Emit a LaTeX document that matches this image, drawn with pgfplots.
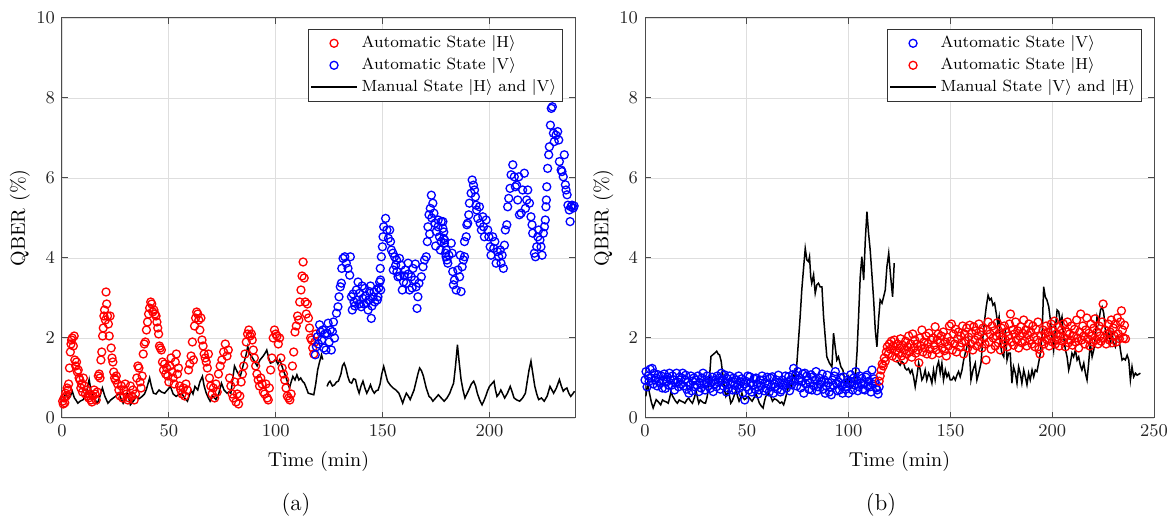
\documentclass[border=0pt]{standalone}
\usepackage{pgfplots}
\pgfplotsset{compat=1.18}
\begin{document}
\begin{tikzpicture}
\useasboundingbox (0,0) rectangle (588pt,258.5pt);
\pgfplotsset{
  qber/.style={
    scale only axis, height=200pt,
    ymin=0, ymax=10, ytick={0,2,4,6,8,10},
    grid=major, grid style={draw=black!13, line width=0.4pt},
    axis line style={draw=black!70, line width=0.5pt},
    tick style={draw=black!70, line width=0.5pt},
    major tick length=3pt, tick align=inside,
    ticklabel style={font=\fontsize{9.5}{11}\selectfont, text=black!85},
    xlabel={Time (min)}, ylabel={QBER (\%)},
    label style={font=\fontsize{10}{12}\selectfont, text=black!85},
    every axis x label/.style={at={(axis description cs:0.5,-0.11)}, anchor=center},
    every axis y label/.style={at={(axis description cs:-0.082,0.5)}, anchor=center, rotate=90},
    legend cell align=left,
    legend style={at={(1,1)}, anchor=north east, xshift=-6pt, yshift=-5.5pt, font=\fontsize{8.1}{9.5}\selectfont, draw=black!80, inner sep=1.2pt, row sep=-0.5pt},
    legend image code/.code={\draw[mark repeat=2,mark phase=2,line width=0.8pt,##1] plot coordinates {(0cm,0cm)(0.4cm,0cm)(0.8cm,0cm)};},
  },
  mk/.style={only marks, mark=o, mark size=2.0pt, mark options={line width=0.65pt}},
  ln/.style={black, line width=0.75pt, mark=none},
}
% ---------------- (a) ----------------
\begin{axis}[qber, at={(31pt,49.5pt)}, anchor=south west, width=256.5pt,
  xmin=0, xmax=240, xtick={0,50,100,150,200}]
\addplot[mk, red] coordinates {
(0.3,0.42)(0.6,0.35)(1.0,0.5)(1.3,0.38)(1.7,0.62)(2.0,0.55)(2.4,0.75)(2.8,0.7)(3.1,0.85)
(3.5,1.25)(3.9,1.65)(4.2,1.85)(4.5,1.95)(4.8,2.0)(5.3,1.8)(5.7,2.05)(6.0,1.45)(6.4,1.3)(6.8,1.4)
(7.2,1.15)(7.6,1.2)(8.0,1.0)(8.4,0.95)(8.8,0.75)(9.2,0.85)(9.6,0.65)(10.0,1.0)(10.5,0.8)(11.0,0.6)(11.5,0.7)
(12.0,0.55)(12.5,0.5)(13.0,0.6)(13.5,0.45)(14.0,0.4)(14.5,0.55)(15.0,0.7)(15.5,0.6)(16.0,0.45)(16.5,0.65)
(17.0,1.05)(17.4,1.1)(17.8,1.0)(18.2,1.45)(18.6,1.65)
(19.0,2.05)(19.3,2.25)(19.6,2.55)(19.9,2.7)(20.3,2.45)(20.6,3.15)(20.9,2.85)(21.3,2.55)(21.7,2.35)(22.1,2.05)(22.5,2.55)
(23.0,1.75)(23.4,1.5)(23.8,1.4)(24.2,1.15)(24.6,1.0)(25.0,0.95)(25.4,1.05)
(26.0,0.85)(26.6,0.7)(27.2,0.55)(27.8,0.8)(28.4,0.5)(29.0,0.7)(29.6,0.85)(30.2,0.6)(30.8,0.45)(31.4,0.5)(32.0,0.8)(32.6,0.55)(33.2,0.7)(33.8,0.45)(34.4,0.6)
(35.0,1.0)(35.5,1.3)(36.0,1.25)(36.5,0.9)(37.0,0.75)(37.5,1.05)
(38.0,1.6)(38.5,1.85)(39.0,1.9)(39.5,2.2)(40.0,2.4)(40.5,2.6)
(41.0,2.75)(41.5,2.9)(42.0,2.85)(42.5,2.65)(43.0,2.7)(43.5,2.6)
(44.0,2.55)(44.4,2.4)(44.8,2.25)(45.2,2.1)(45.6,1.8)(46.0,1.75)(46.5,1.7)
(47.0,1.4)(47.5,1.2)(48.0,1.35)(48.5,1.1)(49.0,1.25)(49.5,1.05)(50.0,0.9)(50.5,1.3)(51.0,1.5)(51.5,1.15)(52.0,1.0)(52.5,0.85)(53.0,1.4)(53.5,1.6)(54.0,1.1)(54.5,1.25)
(55.0,0.8)(55.6,0.7)(56.2,0.6)(56.8,0.75)(57.4,0.55)(58.0,0.85)(58.6,0.7)
(59.2,1.2)(59.8,1.35)(60.4,1.55)(61.0,1.9)(61.5,1.45)
(62.0,2.3)(62.5,2.5)(63.0,2.65)(63.5,2.6)(64.0,2.45)(64.5,2.2)(65.0,2.5)
(65.5,1.95)(66.0,1.8)(66.5,1.6)(67.0,1.5)(67.5,1.4)(68.0,1.25)(68.5,1.6)
(69.0,1.0)(69.6,0.8)(70.2,0.6)(70.8,0.75)(71.4,0.5)(72.0,0.85)(72.6,0.65)(73.2,1.1)
(74.0,1.3)(74.8,1.45)(75.6,1.65)(76.4,1.85)(77.2,1.55)(77.8,1.7)
(78.4,1.0)(79.0,0.8)(79.6,0.6)(80.2,0.5)(80.8,0.9)(81.4,0.4)(82.0,0.6)(82.6,0.35)(83.2,0.55)(83.8,0.9)
(84.4,1.1)(85.0,1.3)(85.6,1.6)(86.2,1.9)(86.8,2.1)(87.4,2.2)(88.0,2.05)(88.6,2.1)(89.0,1.95)
(89.5,1.7)(90.0,1.5)(90.6,1.3)(91.2,1.1)(91.8,0.95)(92.4,0.8)(93.0,1.0)(93.6,0.85)(94.2,0.65)(94.8,0.6)(95.4,0.85)(96.0,0.5)(96.5,0.45)(97.0,0.75)
(97.6,1.2)(98.2,1.5)(98.8,2.0)(99.4,2.2)(100.0,2.1)(100.6,2.05)(101.2,1.85)(101.8,2.0)
(102.4,1.5)(103.0,1.25)(103.6,1.1)(104.2,0.95)(104.8,0.75)(105.4,0.55)(106.0,0.5)(106.6,0.45)(107.2,0.6)
(107.8,1.3)(108.4,1.65)(109.0,2.15)(109.6,2.3)(110.2,2.55)(110.8,2.45)
(111.2,2.9)(111.8,3.2)(112.3,3.55)(112.8,3.9)(113.3,3.5)(113.8,2.9)(114.3,2.6)
(114.8,2.85)(115.3,2.5)(115.8,2.25)(116.3,2.0)(116.8,1.95)(117.3,1.75)(117.8,1.6)(118.3,1.9)(118.8,2.1)
};
\addlegendentry{Automatic State \(|\mathrm{H}\rangle\)}
\addplot[mk, blue] coordinates {
(118.5,1.58)(119.0,1.78)(119.5,2.03)(120.0,1.85)(120.5,2.33)(121.0,2.15)(121.5,1.95)(122.0,2.2)(122.5,1.75)(123.0,2.1)(123.5,1.7)(124.0,2.12)(124.5,2.37)(125.0,1.9)(125.5,2.2)(126.0,1.7)(126.5,2.16)(127.0,2.4)(127.5,2.0)
(128.4,2.62)(129.1,2.78)(129.6,3.03)(130.2,3.28)(130.7,3.37)
(130.9,3.74)(131.5,3.99)(132.3,4.03)(133.0,3.87)(133.8,3.74)(134.6,3.57)(134.9,4.03)
(135.4,3.03)(135.8,2.7)(136.6,2.9)(137.7,3.2)(138.5,3.4)(139.3,3.12)(140.0,2.78)(140.8,2.99)(141.6,3.24)(142.4,2.87)(143.2,2.7)(143.9,3.16)(144.7,2.49)(145.5,3.03)(146.3,2.9)(147.1,3.2)(147.8,3.03)(148.6,3.4)(149.1,3.2)
(136.2,3.1)(137.0,2.8)(138.0,2.95)(139.0,2.85)(140.4,3.3)(141.2,2.85)(142.0,3.05)(143.5,2.95)(144.3,3.3)(145.0,2.8)(146.0,3.15)(147.5,2.95)(148.2,3.25)(149.0,3.45)
(148.9,3.74)(149.4,4.03)(149.9,4.28)(150.2,4.53)(150.5,4.78)(151.4,4.99)(152.0,4.7)(152.7,4.49)(153.3,4.7)(153.7,4.41)
(154.1,4.2)(154.8,4.12)(155.6,4.03)(156.1,3.82)(156.7,3.66)(157.2,3.53)(157.9,3.99)(158.7,3.82)(159.2,3.2)(159.8,3.4)(160.6,3.7)(161.1,3.37)(161.9,3.87)(162.6,3.2)(163.4,3.53)(164.2,3.74)(165.0,3.45)(165.7,3.28)(166.1,2.74)(166.5,3.03)(167.0,3.37)
(155.0,3.7)(156.5,3.95)(158.0,3.55)(160.0,3.55)(162.0,3.6)(163.8,3.25)(165.3,3.85)
(168.1,3.53)(168.9,3.78)(169.6,3.95)(170.4,4.03)(170.9,4.41)(171.2,4.78)(171.7,5.08)(172.3,5.24)(172.8,5.57)(173.5,5.37)(174.0,5.12)(174.5,4.87)(175.1,4.66)(175.9,4.78)(176.6,4.53)(177.4,4.41)(178.2,4.91)(179.0,4.45)(179.8,4.2)(180.1,3.95)
(172.0,4.6)(173.0,5.0)(174.8,4.3)(176.0,4.95)(177.0,4.2)(178.6,4.65)
(177.4,4.91)(178.2,4.74)(178.5,4.49)(178.9,4.37)(179.4,4.12)(179.7,4.03)(180.5,3.87)(181.0,4.07)(182.1,4.37)
(182.5,4.12)(182.8,3.66)(183.1,3.33)(183.6,3.45)(184.4,3.2)(185.2,3.7)(186.0,3.53)(186.3,4.07)(186.7,3.16)(187.2,3.78)(187.8,3.95)(188.3,4.03)
(188.3,4.41)(189.1,4.53)(189.4,4.83)(189.8,4.87)(190.3,5.08)(190.6,5.37)(191.4,5.62)(191.9,5.95)(192.5,5.82)(193.0,5.7)(193.4,5.53)(193.7,5.32)
(194.0,5.2)(194.5,4.99)(195.3,5.28)(195.6,4.87)(196.2,4.7)(196.9,5.03)(197.2,4.78)(197.6,4.53)(198.4,4.95)(199.2,4.7)(199.7,4.53)(200.3,4.28)(200.7,4.07)(201.5,4.53)(202.0,4.24)(202.5,4.41)(203.1,3.87)(203.7,4.16)(204.3,4.03)(205.0,4.2)(205.4,3.87)(205.9,4.07)(206.5,3.74)(207.0,4.32)
(207.4,4.7)(208.1,4.83)(208.5,5.28)(209.0,5.49)(209.6,5.74)(210.1,6.08)(210.9,6.33)(211.6,6.03)(212.1,5.78)(212.7,5.82)(213.2,5.45)(213.7,6.03)(214.0,5.08)(214.8,5.12)(215.5,5.7)(216.3,6.12)(216.8,5.24)(217.4,5.45)(217.9,5.7)(218.7,5.37)(219.4,5.03)
(219.9,4.83)(220.2,4.62)(221.0,4.12)(221.5,4.03)(222.1,4.28)(222.6,4.53)(223.0,4.7)(223.6,4.45)(224.1,4.28)(224.6,4.07)(225.2,4.62)(225.7,4.78)(226.1,4.95)(226.4,5.28)(226.6,5.45)
(226.8,5.78)(227.2,6.24)(227.7,6.58)(228.0,6.78)(228.5,7.32)(228.9,7.74)(229.4,7.78)(229.9,7.12)(230.3,6.91)(231.1,7.07)(231.9,7.16)(232.4,6.95)(232.7,6.41)(233.5,6.2)(233.9,6.16)(234.5,6.03)(235.0,6.58)(235.5,5.83)(235.8,5.7)(236.3,5.58)(236.7,5.32)(237.3,5.2)(237.7,4.91)(238.1,5.28)(238.6,5.32)(239.2,5.25)(239.6,5.3)
};
\addlegendentry{Automatic State \(|\mathrm{V}\rangle\)}
\addplot[ln] coordinates {
(0,0.42)(1.0,0.5)(1.8,0.63)(2.8,0.48)(3.9,0.54)(4.8,0.67)(5.8,0.5)(6.5,0.45)(7.4,0.37)(8.5,0.42)(10,0.46)(11,0.6)(11.8,0.72)(12.7,0.96)(13.5,0.7)(14.5,0.54)(15.5,0.45)(16.6,0.37)(17.5,0.5)(18.9,0.75)(20,0.55)(21.5,0.37)(22.8,0.45)(24,0.5)(25.3,0.55)(26.5,0.62)(27.5,0.5)(28.6,0.37)(29.5,0.48)(30.4,0.62)(31.2,0.5)(32,0.33)(33.4,0.42)(34.8,0.54)(36,0.48)(37.5,0.54)(38.6,0.6)(39.5,0.72)(41,1.0)(41.8,0.8)(42.8,0.62)(44,0.6)(45.4,0.7)(46.5,0.65)(48,0.62)(49.3,0.7)(50.7,0.79)(52,0.6)(53.4,0.54)(54.5,0.58)(56,0.62)(57.3,0.5)(58.7,0.42)(59.5,0.55)(60.4,0.7)(61.3,0.6)(62.2,0.79)(63.5,0.7)(64.5,0.9)(65.7,1.04)(66.5,0.8)(67.5,0.62)(68.5,0.5)(69.3,0.42)(70.5,0.55)(72,0.46)(73.3,0.6)(74.6,0.87)(75.8,0.7)(77.2,0.62)(78,0.65)(79,0.62)(79.8,0.95)(80.7,1.3)(82,1.15)(83.4,1.04)(84.2,1.2)(85,1.37)(86,1.55)(86.9,1.79)(87.8,1.6)(88.7,1.54)(90,1.42)(91.3,1.3)(92.6,1.45)(94,1.54)(95,1.62)(95.8,1.7)(96.7,1.5)(97.5,1.37)(98.7,1.4)(100,1.46)(101,1.35)(101.9,1.46)(103.2,1.25)(104.6,1.04)(105.5,0.9)(106.4,0.75)(107.2,0.9)(108,1.04)(109,0.95)(109.9,1.08)(110.8,0.95)(111.7,1.0)(112.5,0.92)(113.4,0.87)(114.3,0.75)(115.2,0.62)(116.5,0.6)(117.8,0.58)(118.7,0.85)(119.6,1.2)(120.5,1.4)(121.4,1.58)(122,1.46)
};
\addlegendentry{Manual State \(|\mathrm{H}\rangle\) and \(|\mathrm{V}\rangle\)}
\addplot[ln, forget plot] coordinates {
(124,0.79)(124.7,0.88)(125.4,0.92)(126.5,0.8)(127.5,0.83)(128.4,0.9)(129.3,0.92)(130.5,1.1)(131.2,1.3)(132,1.37)(132.8,1.25)(133.7,1.04)(134.6,0.9)(135.5,0.87)(136.4,0.98)(137.3,0.96)(138.2,0.75)(139,0.62)(139.9,0.8)(140.8,0.92)(141.7,0.75)(142.6,0.62)(143.5,0.72)(144.3,0.83)(145.2,0.7)(146.1,0.62)(147,0.68)(147.9,0.7)(148.8,0.85)(149.6,1.1)(150.5,1.29)(151.4,1.1)(152.3,0.92)(153.6,0.82)(154.9,0.75)(156.2,0.7)(157.6,0.62)(158.5,0.5)(159.4,0.37)(160.2,0.5)(161.1,0.62)(162,0.55)(162.9,0.46)(163.8,0.58)(164.7,0.7)(165.6,0.9)(166.5,1.1)(167.3,1.25)(168.2,1.18)(169.1,1.04)(170.4,0.75)(171.7,0.54)(172.6,0.5)(173.5,0.42)(174.8,0.5)(176.1,0.58)(177.4,0.5)(178.8,0.42)(180.1,0.5)(181.4,0.62)(182.3,0.75)(183.2,0.87)(184.1,1.3)(185,1.83)(185.8,1.4)(186.7,0.96)(187.6,0.7)(188.5,0.5)(189.4,0.6)(190.3,0.7)(191.5,0.85)(192.6,0.92)(193.5,0.8)(194.3,0.62)(195.4,0.45)(196.5,0.33)(197.3,0.42)(198.2,0.54)(199.1,0.68)(200,0.79)(201,0.85)(202.1,0.92)(202.8,0.7)(203.5,0.54)(204.4,0.6)(205.3,0.7)(206.2,0.6)(207.1,0.5)(208.4,0.62)(209.7,0.79)(210.6,0.65)(211.5,0.5)(212.8,0.45)(214.1,0.42)(215.5,0.5)(216.8,0.62)(217.6,0.9)(218.5,1.2)(219.4,1.42)(220.3,1.1)(221.2,0.79)(222.1,0.6)(223,0.46)(224.3,0.5)(225.6,0.42)(227,0.55)(228.3,0.79)(229.2,0.7)(230,0.62)(231.3,0.75)(232.7,0.96)(233.6,0.8)(234.5,0.67)(235.3,0.72)(236.2,0.75)(237.1,0.62)(238,0.54)(238.9,0.6)(239.8,0.67)
};
\end{axis}
% ---------------- (b) ----------------
\begin{axis}[qber, at={(322.5pt,49.5pt)}, anchor=south west, width=254.5pt,
  xmin=0, xmax=250, xtick={0,50,100,150,200,250}]
\addplot[mk, blue] coordinates {
(0.0,0.95)(0.5,1.16)(1.0,0.78)(1.5,1.05)(2.0,0.91)(2.5,1.22)(3.0,1.0)(3.5,1.24)(4.0,0.85)(4.5,1.12)(5.0,0.95)(5.5,1.0)(6.0,0.8)(6.5,1.08)(7.0,0.92)(7.5,0.87)(8.0,1.05)(8.5,0.75)(9.0,0.95)(9.5,1.1)
(10.0,0.74)(10.5,0.9)(11.0,1.02)(11.5,0.82)(12.0,1.12)(12.5,0.95)(13.0,0.82)(13.5,1.05)(14.0,0.95)(14.5,0.7)(15.0,0.88)(15.5,1.12)(16.0,0.9)(16.5,0.78)(17.0,1.02)(17.5,0.85)(18.0,1.0)(18.5,1.12)(19.0,0.8)(19.5,0.95)
(20.0,1.07)(20.5,0.72)(21.0,0.9)(21.5,0.62)(22.0,0.82)(22.5,1.05)(23.0,0.68)(23.5,0.92)(24.0,1.0)(24.5,0.78)(25.0,0.95)(25.5,0.82)(26.0,1.05)(26.5,0.66)(27.0,0.88)(27.5,0.75)(28.0,1.0)(28.5,1.12)(29.0,0.85)(29.5,0.7)
(30.0,0.91)(30.5,1.05)(31.0,0.8)(31.5,0.95)(32.0,0.74)(32.5,0.88)(33.0,1.02)(33.5,0.66)(34.0,0.85)(34.5,0.95)(35.0,0.78)(35.5,1.05)(36.0,0.9)(36.5,1.0)(37.0,0.72)(37.5,1.12)(38.0,0.95)(38.5,0.8)(39.0,1.08)(39.5,0.87)
(40.0,0.65)(40.5,0.98)(41.0,0.74)(41.5,1.05)(42.0,0.85)(42.5,0.91)(43.0,0.7)(43.5,1.0)(44.0,0.82)(44.5,0.7)(45.0,0.95)(45.5,0.82)(46.0,1.05)(46.5,0.75)(47.0,0.9)(47.5,0.98)(48.0,0.62)(48.5,0.85)(49.0,0.45)(49.5,0.92)
(50.0,0.78)(50.5,1.05)(51.0,0.7)(51.5,1.03)(52.0,0.88)(52.5,0.65)(53.0,0.82)(53.5,0.98)(54.0,0.72)(54.5,1.0)(55.0,0.85)(55.5,0.6)(56.0,0.7)(56.5,0.95)(57.0,0.8)(57.5,1.05)(58.0,0.95)(58.5,0.68)(59.0,0.88)(59.5,0.74)
(60.0,1.02)(60.5,0.85)(61.0,0.65)(61.5,1.0)(62.0,0.78)(62.5,1.03)(63.0,0.62)(63.5,0.85)(64.0,0.78)(64.5,0.95)(65.0,0.72)(65.5,1.07)(66.0,0.88)(66.5,0.65)(67.0,0.7)(67.5,0.95)(68.0,0.82)(68.5,0.87)(69.0,1.05)(69.5,0.75)
(70.0,0.9)(70.5,1.03)(71.0,0.68)(71.5,0.95)(72.0,0.83)(72.5,1.08)(73.0,1.24)(73.5,0.92)(74.0,1.07)(74.5,0.8)(75.0,1.16)(75.5,0.95)(76.0,1.0)(76.5,0.75)(77.0,0.91)(77.5,1.1)(78.0,0.62)(78.5,1.12)(79.0,0.85)(79.5,1.05)
(80.0,0.95)(80.5,0.72)(81.0,0.88)(81.5,1.08)(82.0,0.7)(82.5,1.03)(83.0,0.8)(83.5,0.95)(84.0,1.16)(84.5,0.68)(85.0,0.78)(85.5,1.0)(86.0,0.85)(86.5,0.91)(87.0,1.1)(87.5,0.72)(88.0,0.95)(88.5,0.62)(89.0,0.8)(89.5,1.07)
(90.0,0.88)(90.5,0.65)(91.0,0.78)(91.5,0.58)(92.0,0.95)(92.5,0.82)(93.0,1.05)(93.5,1.16)(94.0,0.87)(94.5,0.68)(95.0,0.9)(95.5,0.7)(96.0,1.0)(96.5,0.8)(97.0,0.62)(97.5,1.03)(98.0,0.85)(98.5,0.72)(99.0,0.78)(99.5,0.95)
(100.0,0.62)(100.5,0.85)(101.0,1.08)(101.5,0.91)(102.0,0.7)(102.5,1.0)(103.0,0.82)(103.5,1.16)(104.0,0.95)(104.5,0.68)(105.0,0.78)(105.5,1.05)(106.0,0.88)(106.5,0.99)(107.0,0.72)(107.5,0.85)(108.0,0.7)(108.5,1.02)(109.0,1.07)(109.5,0.8)
(110.0,0.92)(110.5,0.78)(111.0,0.65)(111.5,1.2)(112.0,0.85)(112.5,0.98)(113.0,0.91)(113.5,0.75)(114.0,0.7)(114.5,0.6)(115.0,0.78)
};
\addlegendentry{Automatic State \(|\mathrm{V}\rangle\)}
\addplot[mk, red] coordinates {
(115.0,0.92)(115.5,1.05)(116.0,1.2)(116.5,1.35)(117.0,1.3)(117.5,1.5)(118.0,1.42)(118.5,1.65)(119.0,1.78)(119.5,1.6)
(120.0,1.85)(120.5,1.72)(121.0,1.92)(121.5,1.55)(122.0,1.8)(122.5,1.95)(123.0,1.68)(123.5,1.5)(124.0,1.85)(124.5,1.62)
(125.0,1.75)(125.5,1.98)(126.0,1.55)(126.5,1.82)(127.0,1.45)(127.5,1.7)(128.0,1.92)(128.5,1.6)(129.0,1.78)(129.5,2.05)
(130.0,1.65)(130.5,1.85)(131.0,1.52)(131.5,2.1)(132.0,1.75)(132.5,1.95)(133.0,1.62)(133.5,1.85)(134.0,1.7)(134.5,1.38)
(135.0,2.0)(135.5,1.8)(136.0,2.2)(136.5,1.65)(137.0,1.9)(137.5,1.75)(138.0,2.05)(138.5,1.6)(139.0,1.85)(139.5,2.12)
(140.0,1.72)(140.5,1.95)(141.0,1.58)(141.5,2.0)(142.0,1.82)(142.5,2.28)(143.0,1.7)(143.5,1.95)(144.0,2.1)(144.5,1.62)
(145.0,1.88)(145.5,2.05)(146.0,1.75)(146.5,2.15)(147.0,1.68)(147.5,1.9)(148.0,1.55)(148.5,2.02)(149.0,1.8)(149.5,2.3)
(150.0,1.92)(150.5,2.35)(151.0,1.7)(151.5,2.1)(152.0,1.85)(152.5,2.22)(153.0,1.65)(153.5,1.98)(154.0,2.15)(154.5,1.78)
(155.0,2.05)(155.5,1.88)(156.0,2.3)(156.5,1.6)(157.0,2.1)(157.5,1.92)(158.0,2.25)(158.5,1.75)(159.0,2.02)(159.5,2.32)
(160.0,1.85)(160.5,2.12)(161.0,1.7)(161.5,2.28)(162.0,1.95)(162.5,2.18)(163.0,1.8)(163.5,2.05)(164.0,2.35)(164.5,1.9)
(165.0,2.15)(165.5,1.75)(166.0,2.25)(166.5,2.0)(167.0,1.85)(167.5,1.45)(168.0,2.2)(168.5,2.4)(169.0,1.9)(169.5,2.1)
(170.0,1.72)(170.5,2.3)(171.0,2.0)(171.5,2.18)(172.0,1.8)(172.5,2.05)(173.0,2.38)(173.5,1.88)(174.0,2.12)(174.5,1.7)
(175.0,2.25)(175.5,2.02)(176.0,1.85)(176.5,2.3)(177.0,1.95)(177.5,2.15)(178.0,1.78)(178.5,2.05)(179.0,2.35)(179.5,2.6)
(180.0,1.9)(180.5,2.2)(181.0,1.82)(181.5,2.1)(182.0,2.4)(182.5,1.95)(183.0,2.18)(183.5,1.75)(184.0,2.05)(184.5,2.28)
(185.0,1.88)(185.5,2.12)(186.0,2.45)(186.5,1.92)(187.0,2.2)(187.5,1.8)(188.0,2.08)(188.5,2.35)(189.0,1.95)(189.5,2.15)
(190.0,1.85)(190.5,2.3)(191.0,2.02)(191.5,1.78)(192.0,2.22)(192.5,1.95)(193.0,2.4)(193.5,1.72)(194.0,1.6)(194.5,2.05)
(195.0,1.9)(195.5,2.2)(196.0,1.85)(196.5,2.1)(197.0,2.3)(197.5,1.95)(198.0,2.15)(198.5,1.8)(199.0,2.05)(199.5,2.35)
(200.0,1.9)(200.5,2.18)(201.0,2.42)(201.5,1.85)(202.0,2.1)(202.5,1.95)(203.0,2.28)(203.5,1.8)(204.0,2.05)(204.5,2.2)
(205.0,1.92)(205.5,2.35)(206.0,2.0)(206.5,1.78)(207.0,2.15)(207.5,2.4)(208.0,1.88)(208.5,2.1)(209.0,1.95)(209.5,2.3)
(210.0,1.82)(210.5,2.05)(211.0,2.22)(211.5,1.9)(212.0,2.45)(212.5,2.0)(213.0,1.75)(213.5,2.15)(214.0,2.6)(214.5,1.95)
(215.0,2.3)(215.5,2.05)(216.0,1.85)(216.5,2.2)(217.0,2.5)(217.5,1.98)(218.0,2.12)(218.5,1.8)(219.0,2.35)(219.5,2.05)
(220.0,1.9)(220.5,2.25)(221.0,2.48)(221.5,1.95)(222.0,2.15)(222.5,1.85)(223.0,2.3)(223.5,2.05)(224.0,1.92)(224.5,2.4)
(225.0,2.85)(225.5,2.0)(226.0,2.2)(226.5,1.85)(227.0,2.1)(227.5,2.35)(228.0,1.95)(228.5,2.15)(229.0,2.45)(229.5,1.88)
(230.0,2.25)(230.5,2.05)(231.0,2.35)(231.5,1.9)(232.0,2.5)(232.5,2.1)(233.0,1.98)(233.5,2.4)(234.0,2.68)(234.5,2.2)
(235.0,2.0)(235.5,2.32)(236.0,1.98)
};
\addlegendentry{Automatic State \(|\mathrm{H}\rangle\)}
\addplot[ln] coordinates {
(0.4,0.54)(1.3,0.87)(2.2,0.62)(3.1,0.4)(4,0.25)(5.5,0.46)(6.6,0.4)(7.7,0.33)(8.6,0.45)(9.5,0.42)(10.5,0.4)(11.4,0.37)(12.1,0.5)(12.8,0.67)(13.5,0.55)(14.1,0.5)(15,0.42)(15.9,0.37)(16.8,0.45)(17.8,0.42)(18.7,0.4)(19.6,0.37)(20.5,0.45)(21.4,0.5)(22.4,0.42)(23.3,0.37)(24.2,0.5)(25.1,0.67)(25.8,0.5)(26.4,0.37)(27.1,0.45)(27.8,0.42)(28.7,0.38)(29.7,0.37)(30.4,0.5)(31.1,0.71)(31.8,1.1)(32.4,1.54)(33.3,1.58)(34.2,1.62)(35.2,1.67)(35.9,1.6)(36.6,1.58)(37.4,1.42)(38.5,0.96)(39.1,0.7)(39.7,0.54)(40.3,0.6)(41,0.71)(41.5,0.55)(42.1,0.37)(42.8,0.42)(43.4,0.5)(44,0.6)(44.7,0.71)(45.4,0.55)(46.2,0.42)(46.9,0.5)(47.6,0.62)(48.3,0.5)(48.9,0.46)(49.8,0.5)(50.7,0.54)(51.6,0.48)(52.6,0.42)(53.5,0.5)(54.4,0.62)(55.3,0.5)(56.2,0.37)(57.1,0.3)(58,0.25)(58.6,0.4)(59.3,0.54)(60.1,0.58)(60.8,0.62)(61.7,0.55)(62.6,0.42)(63.5,0.48)(64.5,0.46)(65.4,0.42)(66.3,0.37)(67.2,0.4)(68.1,0.33)(68.8,0.45)(69.6,0.62)(70.3,0.75)(70.9,0.87)(71.8,0.8)(72.7,1.08)(73.7,1.0)(74.6,1.37)(75.4,1.95)(76.2,2.53)(77,3.2)(77.8,3.7)(78.7,4.24)(79.5,3.95)(80.3,3.91)(80.8,4.03)(81.4,3.53)(81.9,3.37)(82.8,3.58)(83.6,3.12)(84.4,3.33)(85.2,3.37)(86,3.28)(86.9,3.28)(87.7,2.53)(88.5,2.03)(89.3,1.53)(90.6,1.37)(91.8,1.28)(92.6,2.12)(93.4,1.78)(94.2,1.45)(95,1.53)(96.2,1.28)(97.2,1.2)(97.8,1.03)(98.8,0.87)(100,1.03)(100.8,0.74)(102.1,0.78)(103.3,1.03)(104.1,1.62)(104.9,2.53)(105.7,3.53)(106.5,4.03)(107.4,3.45)(108.2,4.45)(109,5.16)(109.8,4.62)(110.6,4.2)(111.4,3.62)(112.3,2.95)(113.1,2.2)(113.9,1.78)(114.7,2.45)(115.5,2.95)(116.4,2.87)(117.2,3.03)(118,3.2)(118.8,3.78)(119.7,4.12)(120.5,3.62)(121.6,3.03)(122.4,3.87)
};
\addlegendentry{Manual State \(|\mathrm{V}\rangle\) and \(|\mathrm{H}\rangle\)}
\addplot[ln, forget plot] coordinates {
(123.7,1.45)(124.5,1.37)(125.3,1.32)(126.2,1.41)(127,1.37)(127.8,1.24)(128.6,1.2)(129.4,1.24)(130.3,1.12)(131.1,1.2)(131.9,1.03)(132.7,0.78)(133.5,1.03)(134.4,1.37)(135.2,1.2)(136,0.95)(136.8,1.03)(137.6,1.2)(138.4,0.95)(139.3,1.12)(140.1,1.03)(140.9,0.87)(141.7,1.2)(142.5,0.95)(143.4,1.28)(144.2,1.41)(145,1.12)(145.8,1.37)(146.6,0.95)(147.5,1.2)(148.3,1.03)(149.1,1.12)(149.9,0.95)(150.7,0.95)(151.6,1.03)(152.4,0.95)(153.2,1.07)(154,1.16)(154.8,1.03)(155.7,1.2)(156.5,1.45)(157.3,1.62)(158.1,1.78)(158.9,1.95)(159.4,1.62)(160.1,0.95)(161.1,1.2)(162.2,1.37)(163,0.95)(163.9,1.12)(165,1.37)(166,2.03)(166.8,2.45)(167.6,2.78)(168.5,3.07)(169.3,2.95)(170.1,2.99)(170.9,2.82)(171.7,2.87)(172.5,2.62)(173.2,2.37)(173.9,2.53)(174.5,1.87)(175.3,1.62)(176.2,1.53)(177,2.2)(177.8,1.45)(178.6,1.62)(179.4,1.62)(180.2,0.87)(181,1.28)(181.9,1.12)(182.7,0.87)(183.5,1.28)(184.3,1.12)(185.1,0.87)(186,1.2)(186.8,1.03)(187.6,0.83)(188.4,1.12)(189.2,0.95)(190.1,1.2)(190.9,1.03)(191.7,1.2)(192.5,1.16)(193.3,1.37)(194.2,1.62)(195,2.03)(195.8,3.28)(196.6,3.03)(197.4,2.95)(198.3,2.78)(199.1,2.45)(199.9,2.03)(200.7,1.7)(201.5,2.2)(202.4,2.7)(203.2,2.66)(204,2.37)(204.8,2.53)(205.6,2.03)(206.5,1.7)(207.3,1.53)(208.1,1.2)(208.9,1.37)(209.7,1.62)(210.5,1.53)(211.4,1.7)(212.2,1.45)(213,1.53)(213.8,1.32)(214.6,1.2)(215.5,1.37)(216.3,1.12)(217.1,0.95)(217.9,1.37)(218.7,1.87)(219.6,1.53)(220.4,1.7)(221.2,2.03)(222,2.53)(222.8,2.37)(223.7,2.7)(224.5,2.78)(225.3,2.62)(226.1,2.2)(226.9,1.95)(227.8,2.12)(228.6,1.87)(229.4,2.12)(230.2,1.87)(231,1.78)(231.9,2.03)(232.7,2.03)(233.5,1.7)(234.3,1.45)(235.1,1.49)(235.9,1.45)(236.8,1.57)(237.6,1.45)(238.4,0.95)(239.2,1.28)(240,1.03)(240.9,1.12)(241.7,1.07)(243.3,1.12)
};
\end{axis}
\node[font=\fontsize{11.5}{13}\selectfont] at (148pt,6pt) {(a)};
\node[font=\fontsize{11.5}{13}\selectfont] at (440.5pt,6pt) {(b)};
\end{tikzpicture}
\end{document}
